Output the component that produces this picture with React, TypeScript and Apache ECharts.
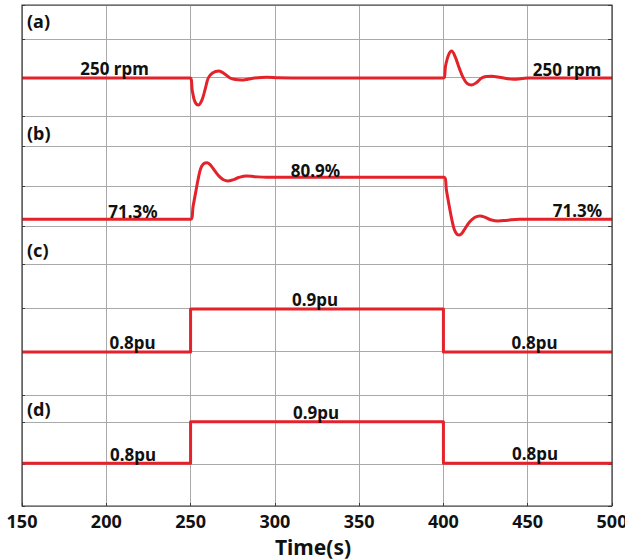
import React, { useEffect, useRef } from "react";
import * as echarts from "echarts";

// ---- data ----
const xTicks = [150, 200, 250, 300, 350, 400, 450, 500];

// (a) rotor speed [rpm]
const speedTime = [
  150, 249.7, 251, 252.5, 254.6, 256.8, 258.7, 260.5, 263, 266.8, 270, 273.4, 276.5, 280.3, 284, 288, 295.2, 302, 310,
  399.9, 401.3, 403, 404.9, 407, 409.5, 411.8, 414, 416.7, 419.5, 422.7, 425.5, 428.6, 434, 441.5, 450, 500,
];
const speedRpm = [
  250, 250, 248.4, 247.0, 246.54, 247.2, 248.6, 250.0, 250.65, 250.9, 250.55, 250.0, 249.8, 249.74, 249.85, 250.0, 250.1, 250.02, 250,
  250, 251.6, 252.95, 253.46, 252.7, 251.2, 250.0, 249.3, 249.1, 249.4, 250.0, 250.2, 250.22, 250.05, 249.83, 250, 250,
];

// (b) gate opening [%]
const gateTime = [
  150, 250, 251.5, 253, 254.5, 256, 257.8, 259.9, 262, 264.5, 267, 269.5, 272, 275, 278.5, 283.3, 288, 295,
  400.3, 401.8, 403.3, 405, 406.5, 408, 409.4, 411, 413, 415.5, 418.5, 421.6, 424.5, 428, 432.5, 438, 445, 500,
];
const gatePct = [
  71.3, 71.3, 74.3, 77.4, 80.5, 82.9, 84.0, 84.24, 83.6, 82.3, 81.1, 80.35, 80.05, 80.3, 80.85, 81.2, 81.05, 80.9,
  80.9, 77.9, 74.6, 71.2, 68.9, 67.9, 67.71, 68.1, 69.3, 70.7, 71.7, 72.05, 71.8, 71.2, 70.91, 71.1, 71.3, 71.3,
];

// (c), (d) load reference [pu]
const stepTime = [150, 250, 400, 500];
const loadC = [0.8, 0.9, 0.8, 0.8];
const loadD = [0.8, 0.9, 0.8, 0.8];

const panelLabels = ["(a)", "(b)", "(c)", "(d)"];
const speedTexts = ["250 rpm", "250 rpm"];
const gateTexts = ["71.3%", "80.9%", "71.3%"];
const loadTexts = ["0.8pu", "0.9pu", "0.8pu"];
const xName = "Time(s)";

const zip = (xs: number[], ys: number[]) => xs.map((x, i) => [x, ys[i]]);

export default function App() {
  const ref = useRef<HTMLDivElement>(null);

  useEffect(() => {
    if (!ref.current) return;
    const chart = echarts.init(ref.current, undefined, { renderer: "svg" });

    const L = 22;
    const R = 13;
    const bands = [
      { top: 5, h: 111, step: 38.5, range: [245.128, 259.359] },
      { top: 116, h: 110, step: 40, range: [69.769, 94.911] },
      { top: 226, h: 169, step: 43.5, range: [0.7, 1.093] },
      { top: 395, h: 111, step: 42, range: [0.6974, 0.9642] },
    ];
    const red = "#e3222a";
    const grid = "#a9a9a9";
    const dark = "#3a3a3a";
    const font = "'Noto Sans', 'DejaVu Sans', sans-serif";

    const grids = bands.map((b) => ({
      left: L,
      right: R,
      top: b.top,
      height: b.h,
      containLabel: false,
      outerBoundsMode: "none",
    }));
    const xAxes = bands.map((b, i) => ({
      type: "value",
      gridIndex: i,
      min: xTicks[0],
      max: xTicks[xTicks.length - 1],
      interval: xTicks[1] - xTicks[0],
      axisLine: { show: false },
      axisTick: i === 3 ? { show: true, inside: true, length: 3, lineStyle: { color: dark } } : { show: false },
      splitLine: { show: true, lineStyle: { color: grid, width: 1 } },
      axisLabel:
        i === 3
          ? { show: true, margin: 6, fontSize: 18, fontWeight: "bold", color: "#111", fontFamily: font, hideOverlap: false }
          : { show: false },
    }));
    const yAxes: any[] = [];
    bands.forEach((b, i) => {
      yAxes.push({
        type: "value",
        gridIndex: i,
        position: "left",
        min: 0,
        max: b.h,
        interval: b.step,
        axisLine: { show: false },
        axisLabel: { show: false },
        axisTick: { show: true, inside: true, length: 3, lineStyle: { color: dark } },
        splitLine: { show: true, lineStyle: { color: grid, width: 1 } },
      });
      yAxes.push({
        type: "value",
        gridIndex: i,
        position: "right",
        min: 0,
        max: b.h,
        interval: b.step,
        axisLine: { show: false },
        axisLabel: { show: false },
        axisTick: { show: true, inside: true, length: 4, lineStyle: { color: dark } },
        splitLine: { show: false },
      });
      yAxes.push({
        type: "value",
        gridIndex: i,
        show: false,
        min: b.range[0],
        max: b.range[1],
        splitLine: { show: false },
      });
    });

    const seriesData = [zip(speedTime, speedRpm), zip(gateTime, gatePct), zip(stepTime, loadC), zip(stepTime, loadD)];
    const series = seriesData.map((d, i) => ({
      type: "line",
      xAxisIndex: i,
      yAxisIndex: i * 3 + 2,
      data: d,
      symbol: "none",
      showSymbol: false,
      clip: false,
      smooth: i < 2 ? 0.35 : false,
      step: i >= 2 ? "end" : false,
      lineStyle: { color: red, width: 3, join: "round" },
      z: 5,
    }));

    const txt = (text: string, x: number, y: number, size = 17, align = "center") => ({
      type: "text",
      x,
      y,
      z: 20,
      style: {
        text,
        fill: "#111",
        font: `bold ${size}px ${font}`,
        align,
        verticalAlign: "middle",
      },
    });

    const labelY = [20.5, 133.3, 250, 409.3];
    const graphic: any[] = [
      {
        type: "rect",
        shape: { x: L, y: 5, width: 625 - L - R, height: 501 },
        style: { fill: "none", stroke: dark, lineWidth: 1.2 },
        z: 10,
        silent: true,
      },
      ...panelLabels.map((t, i) => txt(t, 27, labelY[i], 18, "left")),
      txt(speedTexts[0], 114.5, 68.5),
      txt(speedTexts[1], 567, 69.5),
      txt(gateTexts[0], 133, 211),
      txt(gateTexts[1], 315.5, 170),
      txt(gateTexts[2], 577.5, 210),
      txt(loadTexts[0], 132.5, 342.5),
      txt(loadTexts[1], 315, 299),
      txt(loadTexts[2], 534.5, 342.5),
      txt(loadTexts[0], 133, 454),
      txt(loadTexts[1], 316, 412),
      txt(loadTexts[2], 535, 453),
      txt(xName, 313, 547, 21),
    ];

    chart.setOption({
      animation: false,
      backgroundColor: "#ffffff",
      grid: grids,
      xAxis: xAxes,
      yAxis: yAxes,
      series,
      graphic,
    });

    return () => chart.dispose();
  }, []);

  return (
    <div
      ref={ref}
      style={{ position: "absolute", left: 0, top: 0, width: 625, height: 560, background: "#fff" }}
    />
  );
}
